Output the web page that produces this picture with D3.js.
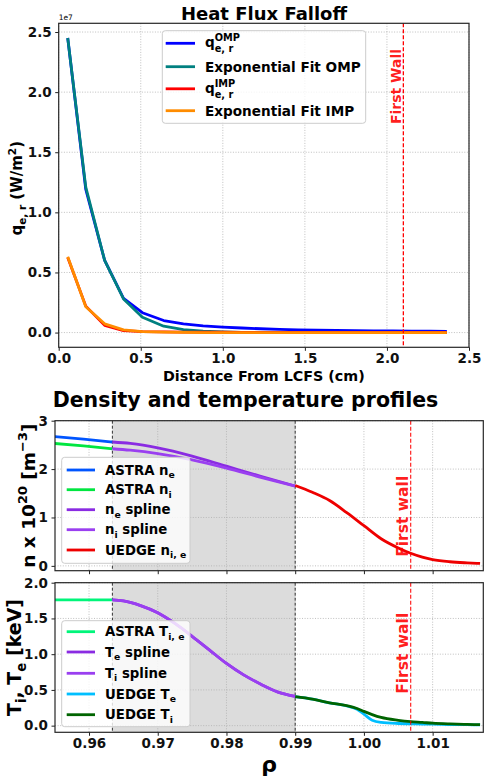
<!DOCTYPE html>
<html>
<head>
<meta charset="utf-8">
<script src="https://cdn.jsdelivr.net/npm/d3@7"></script>
<style>
  body { margin: 0; background: #fff; }
  svg { font-family: "DejaVu Sans", sans-serif; font-weight: bold; }
</style>
</head>
<body>
<svg id="chart" width="491" height="778"></svg>
<script>
// ---- heat flux falloff (values in 1e7 W/m^2) ----
const distCm = [0.055, 0.165, 0.280, 0.395, 0.510, 0.640, 0.760, 0.880, 1.000, 1.115, 1.230,
                1.345, 1.460, 1.575, 1.690, 1.805, 1.920, 2.035, 2.150, 2.260, 2.365];
const qOmp   = [2.45, 1.19, 0.60, 0.285, 0.165, 0.100, 0.072, 0.056, 0.046, 0.038, 0.032,
                0.027, 0.023, 0.020, 0.018, 0.016, 0.014, 0.013, 0.012, 0.011, 0.010];
const fitOmp = [2.45, 1.21, 0.60, 0.28, 0.128, 0.053, 0.024, 0.011, 0.005, 0.002, 0.001,
                0.0005, 0.0002, 0.0001, 0, 0, 0, 0, 0, 0, 0];
const qImp   = [0.625, 0.22, 0.06, 0.016, 0.008, 0.005, 0.004, 0.003, 0.0025, 0.002, 0.0018,
                0.0015, 0.0013, 0.0012, 0.001, 0.001, 0.001, 0.0008, 0.0008, 0.0007, 0.0007];
const fitImp = [0.63, 0.215, 0.073, 0.022, 0.008, 0.003, 0.001, 0.0004, 0.0001, 0, 0,
                0, 0, 0, 0, 0, 0, 0, 0, 0, 0];
const firstWallCm = 2.1;
const heatTicksX = [0, 0.5, 1.0, 1.5, 2.0, 2.5];
const heatTicksY = [0, 0.5, 1.0, 1.5, 2.0, 2.5];

// ---- density (1e20 m^-3) ----
const astraRho = [0.9550, 0.9592, 0.9634];
const astraNe  = [2.67, 2.62, 2.56];
const astraNi  = [2.53, 2.48, 2.42];
const splineRho = [0.9634, 0.9660, 0.9700, 0.9750, 0.9800, 0.9850, 0.9900];
const neSpline  = [2.56, 2.53, 2.44, 2.27, 2.06, 1.85, 1.65];
const niSpline  = [2.42, 2.39, 2.32, 2.19, 2.02, 1.83, 1.65];
const uedgeRho = [0.9900, 0.9925, 0.9950, 0.9975, 1.0000, 1.0025, 1.0050, 1.0068, 1.0085,
                  1.0100, 1.0125, 1.0150, 1.0169];
const uedgeN   = [1.66, 1.52, 1.35, 1.10, 0.83, 0.56, 0.37, 0.26, 0.18, 0.13, 0.085, 0.062, 0.05];

// ---- temperature (keV) ----
const astraT = [1.76, 1.76, 1.76];
const tSplineRho = [0.9634, 0.9650, 0.9675, 0.9700, 0.9725, 0.9750, 0.9775, 0.9800, 0.9825,
                    0.9850, 0.9875, 0.9900];
const teSpline = [1.76, 1.745, 1.68, 1.58, 1.43, 1.25, 1.06, 0.87, 0.71, 0.58, 0.47, 0.41];
const tiSpline = [1.76, 1.745, 1.68, 1.58, 1.43, 1.25, 1.06, 0.87, 0.71, 0.58, 0.47, 0.41];
const uedgeTRho = [0.9900, 0.9925, 0.9950, 0.9975, 0.9990, 1.0000, 1.0012, 1.0025, 1.0050,
                   1.0068, 1.0085, 1.0100, 1.0125, 1.0150, 1.0169];
const uedgeTi = [0.405, 0.37, 0.32, 0.28, 0.24, 0.20, 0.155, 0.115, 0.075, 0.056, 0.045,
                 0.034, 0.024, 0.018, 0.014];
const uedgeTe = [0.405, 0.37, 0.32, 0.275, 0.23, 0.16, 0.075, 0.045, 0.030, 0.026, 0.023,
                 0.020, 0.016, 0.013, 0.011];

const pedestal = [0.9634, 0.9900];
const firstWallRho = 1.0068;
const rhoTicks = [0.96, 0.97, 0.98, 0.99, 1.00, 1.01];
const nTicks = [0, 1, 2, 3];
const tTicks = [0, 0.5, 1.0, 1.5, 2.0];

const svg = d3.select("#chart");
const FS = 13.5; // tick font size
const LW = 2.8;

// writes text with sub/superscript pieces: segs = [[text, kind]]
function rich(t, segs, fs) {
  let shift = 0;
  segs.forEach(([s, k]) => {
    const target = k === "sub" ? fs * 0.25 : k === "sup" ? -fs * 0.42 : 0;
    t.append("tspan")
      .attr("dy", target - shift)
      .attr("font-size", k ? fs * 0.7 : fs)
      .text(s);
    shift = target;
  });
}

// q with stacked super/subscript
function stacked(t, base, sup, sub, x0, fs) {
  const b = t.append("tspan").text(base);
  const w = b.node().getComputedTextLength();
  t.append("tspan").attr("x", x0 + w).attr("dy", -fs * 0.45)
    .attr("font-size", fs * 0.72).text(sup);
  t.append("tspan").attr("x", x0 + w).attr("dy", fs * 0.8)
    .attr("font-size", fs * 0.72).text(sub);
}

function panel(box, x, y, xt, yt, xfmt, yfmt, showX, id) {
  const g = svg.append("g");
  g.append("clipPath").attr("id", id).append("rect")
    .attr("x", box.l).attr("y", box.t)
    .attr("width", box.r - box.l).attr("height", box.b - box.t);
  const back = g.append("g");
  const grid = g.append("g").attr("stroke", "#b0b0b0")
    .attr("stroke-width", 0.8).attr("stroke-dasharray", "1,1.6");
  xt.forEach(v => grid.append("line").attr("x1", x(v)).attr("x2", x(v))
    .attr("y1", box.t).attr("y2", box.b));
  yt.forEach(v => grid.append("line").attr("y1", y(v)).attr("y2", y(v))
    .attr("x1", box.l).attr("x2", box.r));
  const plot = g.append("g").attr("clip-path", `url(#${id})`);

  const ax = d3.axisBottom(x).tickValues(xt).tickFormat(showX ? d3.format(xfmt) : "")
    .tickSize(3.5).tickSizeOuter(0).tickPadding(3);
  const ay = d3.axisLeft(y).tickValues(yt).tickFormat(d3.format(yfmt))
    .tickSize(3.5).tickSizeOuter(0).tickPadding(3.5);
  const gx = g.append("g").attr("transform", `translate(0,${box.b})`).call(ax);
  const gy = g.append("g").attr("transform", `translate(${box.l},0)`).call(ay);
  [gx, gy].forEach(a => {
    a.select(".domain").remove();
    a.attr("font-family", "DejaVu Sans").attr("font-size", FS).attr("font-weight", "bold");
    a.selectAll("line").attr("stroke", "#222");
    a.selectAll("text").attr("fill", "#111");
  });
  const over = g.append("g");
  g.append("rect").attr("x", box.l).attr("y", box.t)
    .attr("width", box.r - box.l).attr("height", box.b - box.t)
    .attr("fill", "none").attr("stroke", "#262626").attr("stroke-width", 1.2);
  return { back, plot, over };
}

function drawLine(layer, xs, ys, x, y, color, w, curve) {
  const pts = xs.map((v, i) => [v, ys[i]]);
  layer.append("path").datum(pts)
    .attr("d", d3.line().x(d => x(d[0])).y(d => y(d[1])).curve(curve || d3.curveLinear))
    .attr("fill", "none").attr("stroke", color).attr("stroke-width", w)
    .attr("stroke-linejoin", "round");
}

function legendBox(layer, b) {
  layer.append("rect").attr("x", b.l).attr("y", b.t)
    .attr("width", b.r - b.l).attr("height", b.b - b.t).attr("rx", 3)
    .attr("fill", "white").attr("fill-opacity", 0.8)
    .attr("stroke", "#cccccc").attr("stroke-width", 1);
}

function wallLabel(layer, xpos, ycen, text, fs) {
  layer.append("text").attr("transform", `translate(${xpos},${ycen}) rotate(-90)`)
    .attr("text-anchor", "middle").attr("font-size", fs)
    .attr("fill", "red").attr("fill-opacity", 0.9).text(text);
}

// ================= Heat flux falloff =================
const hb = { l: 58.7, r: 469, t: 23.3, b: 347.3 };
const xQ = d3.scaleLinear().domain([0, 2.5]).range([hb.l, hb.r]);
const yQ = d3.scaleLinear().domain([-0.1225, 2.5725]).range([hb.b, hb.t]);
const p1 = panel(hb, xQ, yQ, heatTicksX, heatTicksY, ".1f", ".1f", true, "c1");

drawLine(p1.plot, distCm, qOmp, xQ, yQ, "#0000ff", LW);
drawLine(p1.plot, distCm, fitOmp, xQ, yQ, "#008080", LW);
drawLine(p1.plot, distCm, qImp, xQ, yQ, "#ff0000", LW);
drawLine(p1.plot, distCm, fitImp, xQ, yQ, "#ff8c00", LW);
p1.plot.append("line").attr("x1", xQ(firstWallCm)).attr("x2", xQ(firstWallCm))
  .attr("y1", hb.t).attr("y2", hb.b).attr("stroke", "red").attr("stroke-width", 1.3)
  .attr("stroke-dasharray", "4,2");
wallLabel(p1.over, xQ(firstWallCm) - 2, 86.5, "First Wall", 14);

svg.append("text").attr("x", 264).attr("y", 19.5).attr("text-anchor", "middle")
  .attr("font-size", 18).text("Heat Flux Falloff");
svg.append("text").attr("x", hb.l).attr("y", 20).attr("font-size", 7.5)
  .attr("font-weight", "normal").text("1e7");
svg.append("text").attr("x", (hb.l + hb.r) / 2).attr("y", 380.5)
  .attr("text-anchor", "middle").attr("font-size", 14.3).text("Distance From LCFS (cm)");
{
  const t = svg.append("text").attr("transform", `translate(22,${(hb.t + hb.b) / 2 + 3}) rotate(-90)`)
    .attr("text-anchor", "middle").attr("font-size", 15);
  rich(t, [["q"], ["e, r", "sub"], [" (W/m"], ["2", "sup"], [")"]], 15);
}
{
  const lb = { l: 162.3, r: 365.7, t: 30.7, b: 123.3 };
  legendBox(p1.over, lb);
  const rows = [
    { c: "#0000ff", y: 43.3, st: ["q", "OMP", "e, r"] },
    { c: "#008080", y: 66.7, txt: "Exponential Fit OMP" },
    { c: "#ff0000", y: 88.8, st: ["q", "IMP", "e, r"] },
    { c: "#ff8c00", y: 110.7, txt: "Exponential Fit IMP" }
  ];
  rows.forEach(r => {
    p1.over.append("line").attr("x1", 165.7).attr("x2", 195).attr("y1", r.y).attr("y2", r.y)
      .attr("stroke", r.c).attr("stroke-width", LW);
    const t = p1.over.append("text").attr("x", 205).attr("font-size", 13.6);
    if (r.st) {
      t.attr("y", r.y + 4);
      stacked(t, r.st[0], r.st[1], r.st[2], 205, 13.6);
    } else {
      t.attr("y", r.y + 5).text(r.txt);
    }
  });
}

// ================= Density and temperature =================
svg.append("text").attr("x", 245.5).attr("y", 407).attr("text-anchor", "middle")
  .attr("font-size", 20.5).text("Density and temperature profiles");

const xR = d3.scaleLinear().domain([0.95505, 1.01737]).range([55, 483.3]);

// ---- density panel ----
const nb = { l: 55, r: 483.3, t: 420.7, b: 570.7 };
const yN = d3.scaleLinear().domain([-0.1, 3]).range([nb.b, nb.t]);
const p2 = panel(nb, xR, yN, rhoTicks, nTicks, ".2f", "d", false, "c2");

function pedestalShade(p, box) {
  p.back.append("rect").attr("x", xR(pedestal[0])).attr("y", box.t)
    .attr("width", xR(pedestal[1]) - xR(pedestal[0])).attr("height", box.b - box.t)
    .attr("fill", "#dcdcdc");
  pedestal.forEach(v => p.plot.append("line").attr("x1", xR(v)).attr("x2", xR(v))
    .attr("y1", box.t).attr("y2", box.b).attr("stroke", "#333")
    .attr("stroke-width", 1).attr("stroke-dasharray", "3,2"));
}
pedestalShade(p2, nb);

const smooth = d3.curveMonotoneX;
drawLine(p2.plot, astraRho, astraNe, xR, yN, "#0055ff", LW, smooth);
drawLine(p2.plot, astraRho, astraNi, xR, yN, "#00e640", LW, smooth);
drawLine(p2.plot, splineRho, neSpline, xR, yN, "#8a2be2", LW, smooth);
drawLine(p2.plot, splineRho, niSpline, xR, yN, "#9a3ff0", LW, smooth);
drawLine(p2.plot, uedgeRho, uedgeN, xR, yN, "#ee0000", LW, smooth);
p2.plot.append("line").attr("x1", xR(firstWallRho)).attr("x2", xR(firstWallRho))
  .attr("y1", nb.t).attr("y2", nb.b).attr("stroke", "red").attr("stroke-opacity", 0.8)
  .attr("stroke-width", 1.3).attr("stroke-dasharray", "4,2");
wallLabel(p2.over, xR(firstWallRho) - 2.5, 516.3, "First wall", 15.5);

{
  const t = svg.append("text").attr("transform", `translate(35,${(nb.t + nb.b) / 2}) rotate(-90)`)
    .attr("text-anchor", "middle").attr("font-size", 18.5);
  rich(t, [["n x 10"], ["20", "sup"], [" [m"], ["\u22123", "sup"], ["]"]], 18.5);
}
{
  legendBox(p2.over, { l: 61.7, r: 190, t: 457.3, b: 563.3 });
  const rows = [
    { c: "#0055ff", y: 470, s: [["ASTRA n"], ["e", "sub"]] },
    { c: "#00e640", y: 489.7, s: [["ASTRA n"], ["i", "sub"]] },
    { c: "#8a2be2", y: 509.7, s: [["n"], ["e", "sub"], [" spline"]] },
    { c: "#9a3ff0", y: 529.7, s: [["n"], ["i", "sub"], [" spline"]] },
    { c: "#ee0000", y: 550, s: [["UEDGE n"], ["i, e", "sub"]] }
  ];
  rows.forEach(r => {
    p2.over.append("line").attr("x1", 66.7).attr("x2", 95).attr("y1", r.y).attr("y2", r.y)
      .attr("stroke", r.c).attr("stroke-width", LW);
    const t = p2.over.append("text").attr("x", 105).attr("y", r.y + 4.5).attr("font-size", 13.3);
    rich(t, r.s, 13.3);
  });
}

// ---- temperature panel ----
const tb = { l: 55, r: 483.3, t: 582.7, b: 732.3 };
const yT = d3.scaleLinear().domain([-0.093, 2]).range([tb.b, tb.t]);
const p3 = panel(tb, xR, yT, rhoTicks, tTicks, ".2f", ".1f", true, "c3");
pedestalShade(p3, tb);

drawLine(p3.plot, astraRho, astraT, xR, yT, "#00f57a", LW, smooth);
drawLine(p3.plot, tSplineRho, teSpline, xR, yT, "#8a2be2", LW, smooth);
drawLine(p3.plot, tSplineRho, tiSpline, xR, yT, "#9a3ff0", LW, smooth);
drawLine(p3.plot, uedgeTRho, uedgeTe, xR, yT, "#00bfff", LW, smooth);
drawLine(p3.plot, uedgeTRho, uedgeTi, xR, yT, "#006400", LW, smooth);
p3.plot.append("line").attr("x1", xR(firstWallRho)).attr("x2", xR(firstWallRho))
  .attr("y1", tb.t).attr("y2", tb.b).attr("stroke", "red").attr("stroke-opacity", 0.8)
  .attr("stroke-width", 1.3).attr("stroke-dasharray", "4,2");
wallLabel(p3.over, xR(firstWallRho) - 2.5, 653.3, "First wall", 15.5);

{
  const t = svg.append("text").attr("transform", `translate(21,${(tb.t + tb.b) / 2}) rotate(-90)`)
    .attr("text-anchor", "middle").attr("font-size", 19);
  rich(t, [["T"], ["i", "sub"], [", T"], ["e", "sub"], [" [keV]"]], 19);
}
svg.append("text").attr("x", (tb.l + tb.r) / 2).attr("y", 772)
  .attr("text-anchor", "middle").attr("font-size", 22).text("\u03c1");
{
  legendBox(p3.over, { l: 61.7, r: 190, t: 620.7, b: 726.7 });
  const rows = [
    { c: "#00f57a", y: 631.7, s: [["ASTRA T"], ["i, e", "sub"]] },
    { c: "#8a2be2", y: 652, s: [["T"], ["e", "sub"], [" spline"]] },
    { c: "#9a3ff0", y: 673.3, s: [["T"], ["i", "sub"], [" spline"]] },
    { c: "#00bfff", y: 694, s: [["UEDGE T"], ["e", "sub"]] },
    { c: "#006400", y: 714.7, s: [["UEDGE T"], ["i", "sub"]] }
  ];
  rows.forEach(r => {
    p3.over.append("line").attr("x1", 66.7).attr("x2", 95).attr("y1", r.y).attr("y2", r.y)
      .attr("stroke", r.c).attr("stroke-width", LW);
    const t = p3.over.append("text").attr("x", 105).attr("y", r.y + 4.5).attr("font-size", 13.3);
    rich(t, r.s, 13.3);
  });
}
</script>
</body>
</html>
